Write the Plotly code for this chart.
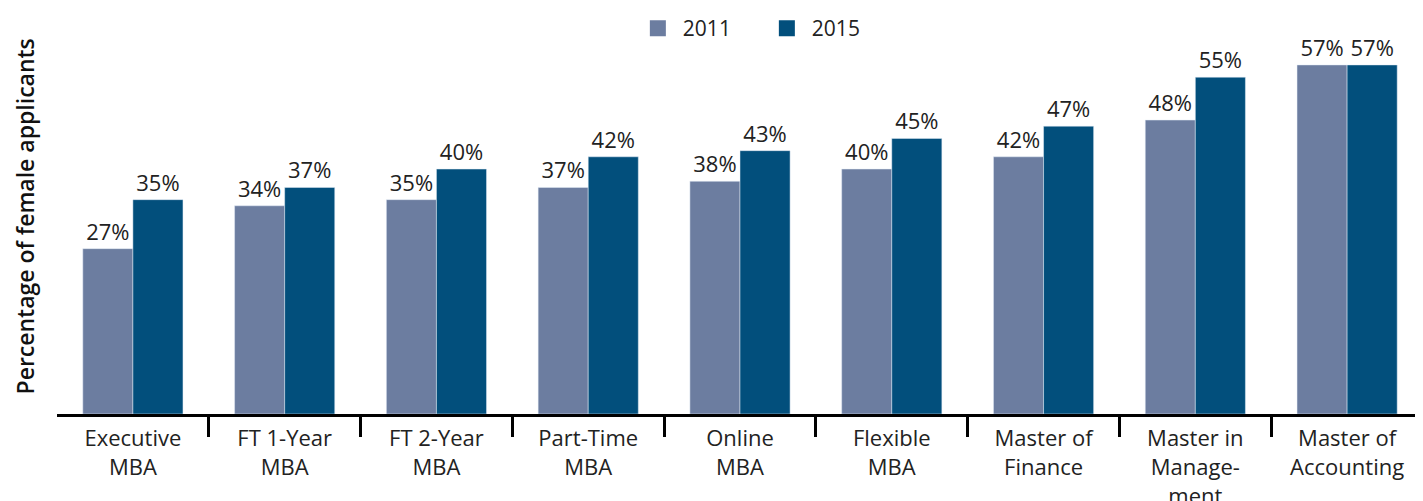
import plotly.graph_objects as go

categories = ["Executive<br>MBA", "FT 1-Year<br>MBA", "FT 2-Year<br>MBA", "Part-Time<br>MBA",
              "Online<br>MBA", "Flexible<br>MBA", "Master of<br>Finance",
              "Master in<br>Manage-<br>ment", "Master of<br>Accounting"]
values_2011 = [27, 34, 35, 37, 38, 40, 42, 48, 57]
values_2015 = [35, 37, 40, 42, 43, 45, 47, 55, 57]
series_names = ["2011", "2015"]
colors = ["#6C7DA0", "#024F7C"]
y_title = "Percentage of female applicants"
boundaries = [i + 0.5 for i in range(len(categories) - 1)]

FONT = "Open Sans"
fig = go.Figure()
for name, vals, col in zip(series_names, [values_2011, values_2015], colors):
    fig.add_trace(go.Bar(
        name=name, x=categories, y=vals, marker_color=col, showlegend=False,
        text=[f"{v}%" for v in vals], textposition="outside",
        textfont=dict(size=22, color="#222"), cliponaxis=False,
    ))
# legend entries with larger square swatches
for name, col in zip(series_names, colors):
    fig.add_trace(go.Scatter(x=[None], y=[None], name=name, mode="markers",
                             marker=dict(symbol="square", size=27, color=col)))

# invisible trace to host the boundary-tick axis
fig.add_trace(go.Scatter(x=[boundaries[0]], y=[0], xaxis="x2", mode="markers",
                         marker=dict(opacity=0), showlegend=False, hoverinfo="skip"))

fig.update_layout(
    width=1415, height=493,
    margin=dict(l=49, r=0, t=10, b=87),
    paper_bgcolor="white", plot_bgcolor="white",
    barmode="group", bargap=0.34, bargroupgap=0,
    font=dict(family=FONT, size=20, color="#222"),
    legend=dict(orientation="h", x=0.516, xanchor="center", y=0.975, yanchor="middle",
                font=dict(size=21), itemwidth=40, entrywidth=74, traceorder="normal"),
    xaxis=dict(type="category", range=[-0.5, 8.5], showline=True, linecolor="black",
               linewidth=3, ticks="", tickfont=dict(size=22, color="#222"), showgrid=False,
               automargin=False, ticklabelstandoff=3),
    xaxis2=dict(overlaying="x", range=[-0.5, 8.5], showticklabels=False, ticks="outside",
                ticklen=22, tickwidth=3, tickcolor="black", tickvals=boundaries,
                showgrid=False, zeroline=False, showline=False, anchor="y", side="bottom",
                automargin=False),
    yaxis=dict(range=[0, 64.5], showticklabels=False, showgrid=False, zeroline=False,
               ticks="", automargin=False),
    annotations=[dict(text=y_title, textangle=-90, xref="paper", yref="paper",
                      x=0, y=0.5, xanchor="center", yanchor="middle", xshift=-33,
                      showarrow=False, font=dict(size=23, color="#111", weight=600))],
)
fig.write_html("out.html")
